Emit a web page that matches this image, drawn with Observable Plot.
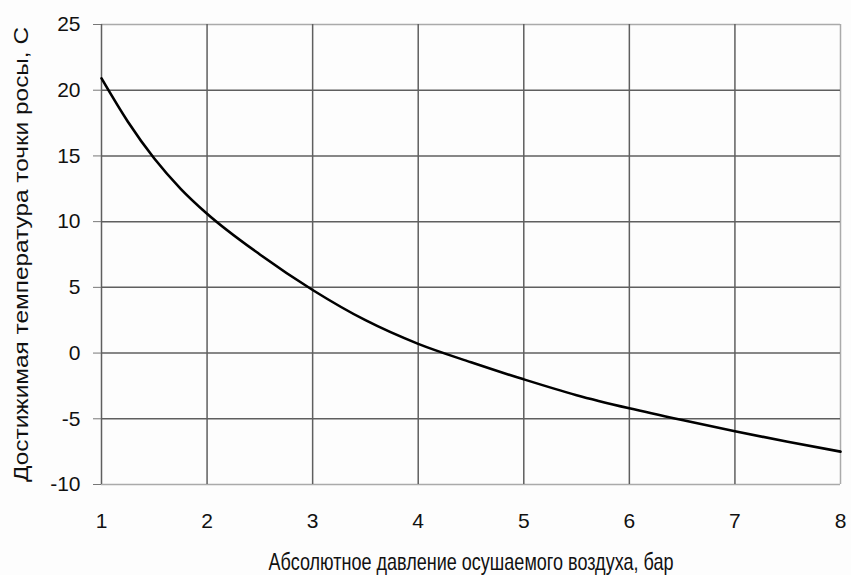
<!DOCTYPE html>
<html>
<head>
<meta charset="utf-8">
<script src="https://cdn.jsdelivr.net/npm/d3@7"></script>
<script src="https://cdn.jsdelivr.net/npm/@observablehq/plot@0.6"></script>
<style>
  html, body { margin: 0; padding: 0; background: #fdfdfd; }
  #chart svg { display: block; background: #fdfdfd; }
</style>
</head>
<body>
<div id="chart"></div>
<script>
const pressure = [1, 1.25, 1.5, 1.75, 2, 2.5, 3, 3.5, 4, 4.5, 5, 5.5, 6, 6.5, 7, 7.5, 8];
const dewPoint = [20.9, 17.6, 14.8, 12.5, 10.6, 7.5, 4.8, 2.5, 0.7, -0.7, -2.0, -3.2, -4.2, -5.1, -5.95, -6.75, -7.5];
const xTicks = [1, 2, 3, 4, 5, 6, 7, 8];
const yTicks = [-10, -5, 0, 5, 10, 15, 20, 25];
const xInnerGrid = [1, 2, 3, 4, 5, 6, 7];
const yInnerGrid = [-5, 0, 5, 10, 15, 20];
const xTitle = "Абсолютное давление осушаемого воздуха, бар";
const yTitle = "Достижимая температура точки росы, С";

const data = pressure.map((p, i) => ({p, t: dewPoint[i]}));

const chart = Plot.plot({
  width: 851,
  height: 575,
  marginLeft: 101,
  marginRight: 11,
  marginTop: 24,
  marginBottom: 91,
  style: {fontFamily: "'Liberation Sans', Arial, sans-serif", fontSize: "21px", color: "#111", background: "#fdfdfd"},
  x: {domain: [1, 8]},
  y: {domain: [-10, 25]},
  marks: [
    Plot.ruleY([25, -10], {stroke: "#aaa", strokeWidth: 1.5}),
    Plot.ruleX([8], {stroke: "#aaa", strokeWidth: 1.5}),
    Plot.ruleX(xInnerGrid, {stroke: "#5f5f5f", strokeWidth: 1.5}),
    Plot.ruleY(yInnerGrid, {stroke: "#5f5f5f", strokeWidth: 1.5}),
    Plot.axisY(yTicks, {tickSize: 8, tickPadding: 13, stroke: "#777", fontSize: 21, label: null, tickFormat: d => String(d)}),
    Plot.axisX(xTicks, {tickSize: 0, tickPadding: 29, fontSize: 21, label: null, tickFormat: d => String(d)}),
    Plot.line(data, {x: "p", y: "t", stroke: "#000", strokeWidth: 2.6, curve: "monotone-x"}),
    Plot.text([xTitle], {frameAnchor: "bottom", dy: 78, text: d => d, fontSize: 24, lineAnchor: "middle", textAnchor: "middle", fill: "#111"}),
    Plot.text([yTitle], {frameAnchor: "left", dx: -80, rotate: -90, text: d => d, fontSize: 20, lineAnchor: "middle", textAnchor: "middle", fill: "#111"})
  ]
});
document.getElementById("chart").appendChild(chart);

// Fit titles to the reference's text lengths
d3.select(chart).selectAll("text").each(function() {
  const t = this.textContent;
  if (t === xTitle) { this.setAttribute("textLength", 405); this.setAttribute("lengthAdjust", "spacingAndGlyphs"); }
  else if (t === yTitle) { this.setAttribute("textLength", 455); this.setAttribute("lengthAdjust", "spacingAndGlyphs"); }
  else { this.style.fontSize = "21px"; this.style.fill = "#111"; }
});
</script>
</body>
</html>
